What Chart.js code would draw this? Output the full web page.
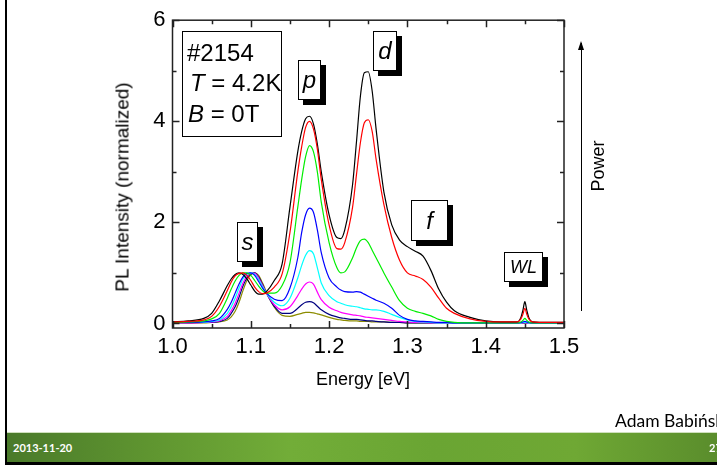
<!DOCTYPE html>
<html>
<head>
<meta charset="utf-8">
<script src="https://cdn.jsdelivr.net/npm/chart.js@4.4.0/dist/chart.umd.min.js"></script>
<style>
  body { margin: 0; width: 717px; height: 465px; overflow: hidden; background: #fff; position: relative;
         font-family: "Liberation Sans", Arial, sans-serif; color: #000; }
  #chart { position: absolute; left: 0; top: 0; }
  .abs { position: absolute; white-space: pre; }
  .tag { position: absolute; background: #fff; border: 1px solid #000; box-shadow: 5px 5px 0 #000;
         font-style: italic; text-align: center; box-sizing: border-box; }
  #inset { position: absolute; left: 182px; top: 31px; width: 100px; height: 106px; border: 1px solid #000;
           box-sizing: border-box; background: #fff; }
  #inset div { position: absolute; font-size: 24px; line-height: 24px; white-space: pre; }
  #leftline { position: absolute; left: 5px; top: 0; width: 2px; height: 465px; background: #000; }
  #bar { position: absolute; left: 7px; top: 432px; width: 710px; height: 30px;
         background: linear-gradient(90deg, #4a7a2a 0%, #5f9530 20%, #72ad38 40%, #6aa533 60%, #6fa834 80%, #5a8d2c 100%);
         border-top: 1px solid #cfe0bd; box-sizing: border-box; }
  #bottomline { position: absolute; left: 5px; top: 462px; width: 712px; height: 3px; background: #000; }
  .foot { position: absolute; color: #fff; font-family: "Lato", "Open Sans", sans-serif; font-weight: bold; font-size: 11px; }
</style>
</head>
<body>
<canvas id="chart" width="717" height="465"></canvas>

<div id="leftline"></div>
<div id="bar"></div>
<div id="bottomline"></div>
<div class="foot" style="left:13px; top:441px;">2013-11-20</div>
<div class="foot" style="left:709px; top:441px;">27</div>
<div class="abs" style="left:615px; top:410px; font-family:'Lato','Open Sans',sans-serif; font-size:17.5px;">Adam Babiński</div>

<div class="abs" style="left:316px; top:370px; font-size:18px; line-height:18px;">Energy [eV]</div>
<div class="abs" style="left:122px; top:187px; font-size:19px; line-height:19px; transform: translate(-50%,-50%) rotate(-90deg);">PL Intensity (normalized)</div>

<div class="abs" style="left:581px; top:43px; width:1px; height:268px; background:#000;"></div>
<div class="abs" style="left:578px; top:41px; width:0; height:0; border-left:3.5px solid transparent; border-right:3.5px solid transparent; border-bottom:9px solid #000;"></div>
<div class="abs" style="left:598px; top:166px; font-size:18px; line-height:18px; transform: translate(-50%,-50%) rotate(-90deg);">Power</div>

<div id="inset">
  <div style="left:4px; top:9px;">#2154</div>
  <div style="left:7px; top:39px;"><i>T</i> = 4.2K</div>
  <div style="left:5px; top:70px;"><i>B</i> = 0T</div>
</div>

<div class="tag" style="left:298px; top:60px; width:23px; height:40px; font-size:24px; line-height:38px;">p</div>
<div class="tag" style="left:373px; top:31px; width:24px; height:40px; font-size:24px; line-height:38px;">d</div>
<div class="tag" style="left:237px; top:222px; width:21px; height:40px; font-size:24px; line-height:38px;">s</div>
<div class="tag" style="left:411px; top:200px; width:37px; height:41px; font-size:24px; line-height:39px;">f</div>
<div class="tag" style="left:504px; top:252px; width:39px; height:30px; font-size:18px; line-height:28px;">WL</div>

<script>
// photon energy grid [eV]
const energy = [1.00, 1.02, 1.04, 1.05, 1.06, 1.07, 1.075, 1.08, 1.085, 1.09,
  1.095, 1.10, 1.105, 1.11, 1.115, 1.12, 1.13, 1.14, 1.15, 1.16,
  1.165, 1.17, 1.175, 1.18, 1.185, 1.19, 1.20, 1.21, 1.215, 1.22,
  1.23, 1.235, 1.24, 1.245, 1.25, 1.255, 1.26, 1.27, 1.28, 1.29,
  1.30, 1.31, 1.32, 1.33, 1.34, 1.35, 1.36, 1.38, 1.40, 1.42,
  1.44, 1.445, 1.4475, 1.45, 1.4525, 1.455, 1.46, 1.48, 1.50];

// PL spectra, normalized to the s peak, highest excitation power first
const pBlack = [0.03, 0.05, 0.10, 0.20, 0.45, 0.75, 0.88, 0.97, 1.00, 0.97,
  0.88, 0.76, 0.64, 0.58, 0.58, 0.63, 0.85, 1.18, 2.30, 3.40,
  3.80, 4.05, 4.10, 3.95, 3.55, 3.00, 2.15, 1.70, 1.68, 1.85,
  2.75, 3.60, 4.50, 4.96, 4.98, 4.60, 3.85, 2.60, 1.95, 1.65,
  1.52, 1.43, 1.33, 1.05, 0.68, 0.42, 0.25, 0.12, 0.05, 0.03,
  0.03, 0.12, 0.26, 0.43, 0.26, 0.12, 0.03, 0.02, 0.02];
const pRed = [0.03, 0.04, 0.07, 0.14, 0.34, 0.65, 0.82, 0.94, 0.99, 1.00,
  0.95, 0.85, 0.72, 0.63, 0.59, 0.60, 0.72, 0.98, 1.80, 3.00,
  3.50, 3.88, 4.00, 3.85, 3.45, 2.85, 1.95, 1.48, 1.47, 1.60,
  2.30, 2.95, 3.58, 3.97, 4.03, 3.80, 3.25, 2.35, 1.70, 1.25,
  1.00, 0.94, 0.87, 0.72, 0.50, 0.30, 0.20, 0.09, 0.04, 0.03,
  0.03, 0.09, 0.18, 0.30, 0.18, 0.09, 0.03, 0.02, 0.02];
const pGreen = [0.02, 0.03, 0.05, 0.09, 0.20, 0.50, 0.68, 0.84, 0.95, 1.00,
  1.00, 0.95, 0.85, 0.74, 0.65, 0.60, 0.60, 0.75, 1.20, 2.30,
  2.85, 3.30, 3.52, 3.40, 3.00, 2.40, 1.60, 1.10, 1.00, 1.02,
  1.30, 1.50, 1.64, 1.67, 1.60, 1.45, 1.30, 1.00, 0.72, 0.45,
  0.30, 0.24, 0.20, 0.15, 0.08, 0.04, 0.02, 0.01, 0.01, 0.01,
  0.01, 0.03, 0.06, 0.10, 0.06, 0.03, 0.01, 0.01, 0.01];
const pBlue = [0.02, 0.02, 0.03, 0.05, 0.10, 0.28, 0.42, 0.60, 0.78, 0.92,
  0.99, 1.00, 0.95, 0.83, 0.70, 0.60, 0.48, 0.45, 0.70, 1.30,
  1.80, 2.15, 2.28, 2.20, 1.85, 1.40, 0.90, 0.72, 0.66, 0.63,
  0.62, 0.63, 0.62, 0.58, 0.54, 0.50, 0.46, 0.40, 0.30, 0.16,
  0.08, 0.05, 0.04, 0.03, 0.02, 0.02, 0.01, 0.01, 0.01, 0.01,
  0.01, 0.02, 0.03, 0.04, 0.03, 0.02, 0.01, 0.01, 0.01];
const pCyan = [0.01, 0.02, 0.02, 0.04, 0.07, 0.20, 0.33, 0.50, 0.70, 0.88,
  0.97, 1.00, 0.97, 0.87, 0.73, 0.60, 0.42, 0.35, 0.50, 0.90,
  1.15, 1.35, 1.44, 1.38, 1.10, 0.80, 0.55, 0.43, 0.40, 0.37,
  0.34, 0.33, 0.31, 0.29, 0.28, 0.27, 0.27, 0.24, 0.18, 0.12,
  0.07, 0.04, 0.03, 0.02, 0.01, 0.01, 0.01, 0.01, 0.01, 0.01,
  0.01, 0.01, 0.02, 0.02, 0.02, 0.01, 0.01, 0.01, 0.01];
const pMagenta = [0.01, 0.01, 0.02, 0.03, 0.05, 0.14, 0.25, 0.40, 0.60, 0.80,
  0.93, 0.99, 0.99, 0.90, 0.75, 0.60, 0.37, 0.27, 0.33, 0.55,
  0.68, 0.78, 0.82, 0.78, 0.62, 0.47, 0.32, 0.25, 0.22, 0.20,
  0.17, 0.16, 0.15, 0.13, 0.12, 0.11, 0.10, 0.08, 0.06, 0.04,
  0.03, 0.02, 0.02, 0.01, 0.01, 0.01, 0.01, 0.01, 0.01, 0.01,
  0.01, 0.01, 0.01, 0.02, 0.01, 0.01, 0.01, 0.01, 0.01];
const pNavy = [0.01, 0.01, 0.02, 0.02, 0.04, 0.10, 0.20, 0.33, 0.52, 0.74,
  0.90, 0.98, 1.00, 0.92, 0.77, 0.60, 0.34, 0.20, 0.20, 0.30,
  0.37, 0.42, 0.43, 0.41, 0.34, 0.27, 0.18, 0.13, 0.11, 0.10,
  0.08, 0.08, 0.07, 0.06, 0.05, 0.05, 0.04, 0.03, 0.02, 0.02,
  0.01, 0.01, 0.01, 0.01, 0.01, 0.01, 0.01, 0.01, 0.01, 0.01,
  0.01, 0.01, 0.01, 0.01, 0.01, 0.01, 0.01, 0.01, 0.01];
const pOlive = [0.01, 0.01, 0.01, 0.02, 0.03, 0.07, 0.13, 0.24, 0.42, 0.65,
  0.85, 0.96, 1.00, 0.95, 0.80, 0.62, 0.32, 0.16, 0.14, 0.18,
  0.20, 0.22, 0.22, 0.21, 0.19, 0.17, 0.12, 0.08, 0.07, 0.06,
  0.05, 0.05, 0.04, 0.04, 0.04, 0.03, 0.03, 0.03, 0.02, 0.02,
  0.01, 0.01, 0.01, 0.01, 0.01, 0.01, 0.01, 0.01, 0.01, 0.01,
  0.01, 0.01, 0.01, 0.01, 0.01, 0.01, 0.01, 0.01, 0.01];

const xTicks = [1.0, 1.1, 1.2, 1.3, 1.4, 1.5];
const xMinor = [1.05, 1.15, 1.25, 1.35, 1.45];
const yTicks = [0, 2, 4, 6];
const yMinor = [1, 3, 5];

const series = [
  { data: pRed, color: '#ff0000' },
  { data: pBlack, color: '#000000' },
  { data: pGreen, color: '#00ee00' },
  { data: pBlue, color: '#0000ff' },
  { data: pCyan, color: '#00ffff' },
  { data: pMagenta, color: '#ff00ff' },
  { data: pNavy, color: '#000080' },
  { data: pOlive, color: '#8c8c00' }
];

// box around the plot plus inward ticks on all four sides
const frame = {
  id: 'frame',
  afterDatasetsDraw(chart) {
    const { ctx, chartArea: a, scales } = chart;
    const x = scales.x, y = scales.y;
    ctx.save();
    ctx.strokeStyle = '#222';
    ctx.lineWidth = 1.5;
    ctx.beginPath();
    const xt = (vals, len) => vals.forEach(v => {
      const px = Math.round(x.getPixelForValue(v)) + 0.5;
      ctx.moveTo(px, a.bottom); ctx.lineTo(px, a.bottom - len);
      ctx.moveTo(px, a.top); ctx.lineTo(px, a.top + len);
    });
    const yt = (vals, len) => vals.forEach(v => {
      const py = Math.round(y.getPixelForValue(v)) + 0.5;
      ctx.moveTo(a.left, py); ctx.lineTo(a.left + len, py);
      ctx.moveTo(a.right, py); ctx.lineTo(a.right - len, py);
    });
    xt(xTicks, 7); xt(xMinor, 4);
    yt(yTicks, 7); yt(yMinor, 4);
    ctx.stroke();
    ctx.strokeRect(a.left, a.top, a.right - a.left, a.bottom - a.top);
    ctx.restore();
  }
};

new Chart(document.getElementById('chart'), {
  type: 'line',
  data: {
    datasets: series.map(s => ({
      data: energy.map((e, i) => ({ x: e, y: s.data[i] })),
      borderColor: s.color,
      borderWidth: 1.2,
      pointRadius: 0,
      fill: false,
      cubicInterpolationMode: 'monotone'
    }))
  },
  options: {
    responsive: false,
    animation: false,
    devicePixelRatio: 1,
    layout: { padding: { left: 0, right: 153, top: 20, bottom: 0 } },
    plugins: { legend: { display: false }, tooltip: { enabled: false } },
    scales: {
      x: {
        type: 'linear', min: 1.0, max: 1.5,
        grid: { display: false, drawTicks: false },
        border: { display: false },
        afterBuildTicks: s => { s.ticks = xTicks.map(v => ({ value: v })); },
        afterFit: s => { s.height = 137; },
        ticks: {
          padding: 6, color: '#000',
          font: { family: 'Liberation Sans', size: 22 },
          callback: v => v.toFixed(1)
        }
      },
      y: {
        type: 'linear', min: -0.09, max: 6,
        grid: { display: false, drawTicks: false },
        border: { display: false },
        afterBuildTicks: s => { s.ticks = yTicks.map(v => ({ value: v })); },
        afterFit: s => { s.width = 172.5; },
        ticks: {
          padding: 7, color: '#000',
          font: { family: 'Liberation Sans', size: 22 },
          callback: v => String(v)
        }
      }
    }
  },
  plugins: [frame]
});
</script>
</body>
</html>
